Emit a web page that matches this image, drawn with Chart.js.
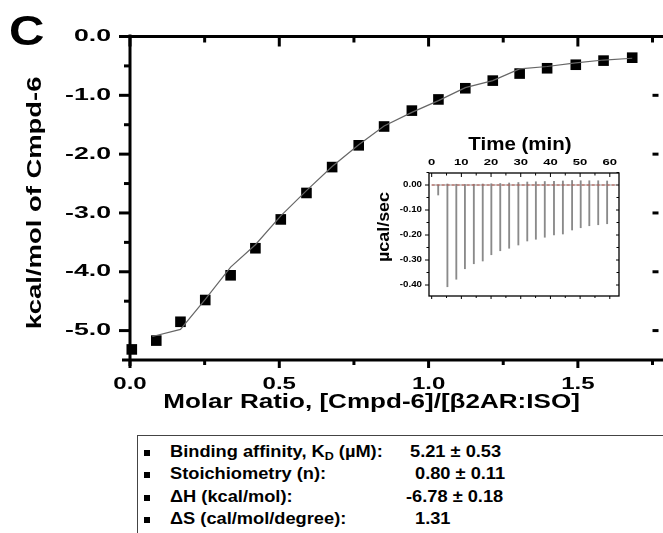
<!DOCTYPE html>
<html>
<head>
<meta charset="utf-8">
<script src="https://cdn.jsdelivr.net/npm/chart.js@4.4.1/dist/chart.umd.min.js"></script>
<style>
  html, body { margin:0; padding:0; background:#fff; }
  body { width:663px; height:533px; overflow:hidden; position:relative;
         font-family:"Liberation Sans", Arial, sans-serif; font-weight:bold; color:#000; }
  #main { position:absolute; left:0; top:0; }
  #inset { position:absolute; left:360px; top:130px; }
  .box { position:absolute; left:137px; top:435px; width:600px; height:120px; border:1px solid #444; }
  .row { position:absolute; height:18px; line-height:18px; font-size:16px; white-space:nowrap;
         transform-origin:left center; transform:scaleX(1.14); }
  .bul { position:absolute; left:144px; width:6px; height:6px; background:#000; }
  sub { font-size:11px; vertical-align:-3px; line-height:0; }
</style>
</head>
<body>
<canvas id="main" width="663" height="430"></canvas>
<canvas id="inset" width="300" height="180"></canvas>
<div class="box"></div>
<div id="stats"></div>
<script>
// ---- titration data (integrated heats) ----
const molarRatio = [0.006, 0.088, 0.169, 0.252, 0.337, 0.420, 0.505, 0.591, 0.677, 0.766,
                    0.851, 0.944, 1.033, 1.123, 1.215, 1.305, 1.397, 1.493, 1.586, 1.682];
const heat = [-5.32, -5.17, -4.85, -4.48, -4.06, -3.60, -3.11, -2.66, -2.22, -1.85,
              -1.53, -1.26, -1.07, -0.88, -0.75, -0.63, -0.54, -0.48, -0.41, -0.36];
// fitted curve
const fitX = [0.075, 0.169, 0.252, 0.337, 0.420, 0.505, 0.591, 0.677, 0.766, 0.851,
              0.944, 1.033, 1.123, 1.215, 1.305, 1.397, 1.493, 1.586, 1.682];
const fitY = [-5.10, -4.98, -4.47, -3.92, -3.54, -3.05, -2.62, -2.21, -1.84, -1.52,
              -1.29, -1.09, -0.87, -0.75, -0.55, -0.51, -0.45, -0.40, -0.37];
const xMajor = [0, 0.5, 1.0, 1.5];
const xMinor = [0.25, 0.75, 1.25, 1.75];
const yMajor = [0, -1, -2, -3, -4, -5];
const yMinor = [-0.5, -1.5, -2.5, -3.5, -4.5];

// ---- raw thermogram (inset) ----
const injTime = [2.2, 5.3, 8.3, 11.2, 14.2, 17.2, 20.1, 23.1, 26.1, 29.2,
                 32.2, 35.1, 38.1, 41.2, 44.2, 47.3, 50.2, 53.1, 56.1, 59.1];
const injPeak = [-0.040, -0.407, -0.377, -0.335, -0.315, -0.304, -0.279, -0.263, -0.253, -0.240,
                 -0.224, -0.217, -0.209, -0.200, -0.196, -0.180, -0.171, -0.163, -0.159, -0.155];
const injTop = [0.000, 0.004, 0.003, 0.002, 0.003, 0.004, 0.005, 0.006, 0.008, 0.010,
                0.012, 0.013, 0.014, 0.015, 0.016, 0.018, 0.017, 0.017, 0.017, 0.016];
const baseT = [0, 62.5];
const baseP = [0, 0];
const tMajor = [0, 10, 20, 30, 40, 50, 60];
const tMinor = [5, 15, 25, 35, 45, 55];
const pMajor = [0, -0.1, -0.2, -0.3, -0.4];
const pMinor = [0.05, -0.05, -0.15, -0.25, -0.35];

// ---- fitted parameters ----
const statLabels = ['Binding affinity, K<sub>D</sub> (µM):', 'Stoichiometry (n):', 'ΔH (kcal/mol):', 'ΔS (cal/mol/degree):'];
const statValues = ['5.21 ± 0.53', '0.80 ± 0.11', '-6.78 ± 0.18', '1.31'];

const FONT = '"Liberation Sans", Arial, sans-serif';

function seg(ctx, x1, y1, x2, y2) {
  ctx.beginPath(); ctx.moveTo(x1, y1); ctx.lineTo(x2, y2); ctx.stroke();
}
// text in the figure is horizontally stretched
function wideText(ctx, text, x, y, size, sx, align, base, rot) {
  ctx.save();
  ctx.translate(x, y);
  if (rot) ctx.rotate(rot);
  ctx.scale(sx, 1);
  ctx.font = 'bold ' + size + 'px ' + FONT;
  ctx.fillStyle = '#000';
  ctx.textAlign = align || 'center';
  ctx.textBaseline = base || 'middle';
  ctx.fillText(text, 0, 0);
  ctx.restore();
}

const mainFrame = {
  id: 'mainFrame',
  beforeDatasetsDraw(chart) {
    const {ctx, chartArea: a, scales: {x, y}} = chart;
    ctx.save();
    ctx.strokeStyle = '#000';
    ctx.lineWidth = 3;
    seg(ctx, a.left, a.top - 2, a.left, a.bottom + 6);
    seg(ctx, a.left - 8, a.bottom, 663, a.bottom);
    seg(ctx, a.left - 1.5, a.top, 663, a.top);
    yMajor.forEach(v => {
      const p = y.getPixelForValue(v);
      seg(ctx, a.left - 11, p, a.left, p);
      if (v < 0) seg(ctx, a.right - 3, p, a.right + 3, p);
    });
    yMinor.forEach(v => { const p = y.getPixelForValue(v); seg(ctx, a.left - 6, p, a.left, p); });
    xMajor.forEach(v => {
      const p = x.getPixelForValue(v);
      seg(ctx, p, a.bottom, p, a.bottom + 8);
      seg(ctx, p, a.top, p, a.top + 10);
    });
    xMinor.forEach(v => {
      const p = x.getPixelForValue(v);
      seg(ctx, p, a.bottom, p, a.bottom + 5);
      seg(ctx, p, a.top, p, a.top + 6);
    });
    ctx.restore();
  },
  afterDraw(chart) {
    const {ctx, chartArea: a, scales: {x, y}} = chart;
    yMajor.forEach(v => wideText(ctx, v.toFixed(1), a.left - 19, y.getPixelForValue(v), 17, 1.57, 'right'));
    xMajor.forEach(v => wideText(ctx, v.toFixed(1), x.getPixelForValue(v), 385, 16, 1.5));
    wideText(ctx, 'Molar Ratio, [Cmpd-6]/[β2AR:ISO]', 371.5, 402, 21, 1.24);
    wideText(ctx, 'kcal/mol of Cmpd-6', 35, 203, 20, 1.37, 'center', 'middle', -Math.PI / 2);
    wideText(ctx, 'C', 9, 45, 42, 1.17, 'left', 'alphabetic');
  }
};

new Chart(document.getElementById('main'), {
  type: 'scatter',
  data: {
    datasets: [
      {
        data: fitX.map((v, i) => ({x: v, y: fitY[i]})),
        showLine: true, pointRadius: 0, borderColor: '#666', borderWidth: 1.2, clip: false
      },
      {
        data: molarRatio.map((v, i) => ({x: v, y: heat[i]})),
        pointStyle: 'rect', pointRadius: 7.5, backgroundColor: '#000', borderColor: '#000',
        borderWidth: 0, clip: false
      }
    ]
  },
  options: {
    responsive: false, animation: false,
    layout: {padding: {left: 130, top: 36.5, right: 2, bottom: 70}},
    plugins: {legend: {display: false}, tooltip: {enabled: false}},
    scales: {
      x: {type: 'linear', display: false, min: 0, max: 1.76},
      y: {type: 'linear', display: false, min: -5.5, max: 0}
    }
  },
  plugins: [mainFrame]
});

const insetFrame = {
  id: 'insetFrame',
  beforeDatasetsDraw(chart) {
    const {ctx, chartArea: a, scales: {x, y}} = chart;
    ctx.save();
    ctx.strokeStyle = '#000';
    ctx.lineWidth = 1.3;
    ctx.strokeRect(a.left, a.top, a.right - a.left, a.bottom - a.top);
    ctx.lineWidth = 1;
    tMajor.forEach(v => {
      const p = x.getPixelForValue(v);
      seg(ctx, p, a.top, p, a.top + 4);
      seg(ctx, p, a.bottom, p, a.bottom + 3);
    });
    tMinor.forEach(v => {
      const p = x.getPixelForValue(v);
      seg(ctx, p, a.top, p, a.top + 2.5);
      seg(ctx, p, a.bottom, p, a.bottom + 2);
    });
    pMajor.forEach(v => {
      const p = y.getPixelForValue(v);
      seg(ctx, a.left - 4, p, a.left, p);
      seg(ctx, a.right - 3, p, a.right, p);
    });
    pMinor.forEach(v => {
      const p = y.getPixelForValue(v);
      seg(ctx, a.left - 2.5, p, a.left, p);
      seg(ctx, a.right - 2.5, p, a.right, p);
    });
    ctx.restore();
  },
  afterDraw(chart) {
    const {ctx, chartArea: a, scales: {x, y}} = chart;
    tMajor.forEach(v => wideText(ctx, String(v), x.getPixelForValue(v), 33, 9, 1.45));
    pMajor.forEach(v => wideText(ctx, v.toFixed(2), a.left - 7, y.getPixelForValue(v), 8.5, 1.15, 'right'));
    wideText(ctx, 'Time (min)', 160, 15, 18, 1.14);
    wideText(ctx, 'µcal/sec', 25, 97, 16, 1.12, 'center', 'middle', -Math.PI / 2);
  }
};

new Chart(document.getElementById('inset'), {
  type: 'bar',
  data: {
    datasets: [
      {
        type: 'line',
        data: baseT.map((v, i) => ({x: v, y: baseP[i]})),
        borderColor: '#999', borderWidth: 1, pointRadius: 0, order: 2
      },
      {
        type: 'line',
        data: baseT.map((v, i) => ({x: v, y: baseP[i]})),
        borderColor: '#b5544a', borderWidth: 1, borderDash: [3, 2], pointRadius: 0, order: 0
      },
      {
        type: 'bar',
        data: injTime.map((v, i) => ({x: v, y: [injTop[i], injPeak[i]]})),
        backgroundColor: '#8a8a8a', borderWidth: 0, barThickness: 1.2, order: 1
      }
    ]
  },
  options: {
    responsive: false, animation: false,
    layout: {padding: {left: 69, top: 43, right: 41, bottom: 14}},
    plugins: {legend: {display: false}, tooltip: {enabled: false}},
    scales: {
      x: {type: 'linear', display: false, min: -0.9, max: 63.1, offset: false},
      y: {type: 'linear', display: false, min: -0.444, max: 0.048}
    }
  },
  plugins: [insetFrame]
});

// ---- parameter box ----
const rowTops = [443, 465.4, 487.7, 509.7];
const valueLeft = [410, 415, 406, 415];
const stats = document.getElementById('stats');
statLabels.forEach((lab, i) => {
  stats.insertAdjacentHTML('beforeend',
    `<div class="bul" style="top:${rowTops[i] + 7}px"></div>` +
    `<div class="row" style="left:170px;top:${rowTops[i]}px">${lab}</div>` +
    `<div class="row" style="left:${valueLeft[i]}px;top:${rowTops[i]}px">${statValues[i]}</div>`);
});
</script>
</body>
</html>
